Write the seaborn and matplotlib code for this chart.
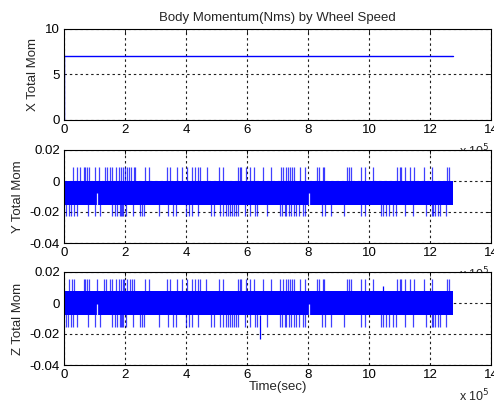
import matplotlib
matplotlib.use("Agg")
import matplotlib.pyplot as plt
from matplotlib.ticker import FuncFormatter, FixedLocator
import numpy as np
import pandas as pd
import seaborn as sns

# Time axis in units of 1e5 s
run_end = 12.74

# X total momentum: steps up to its steady value at start
x_time = [0.0, 0.0, run_end]
x_mom = [0.0, 7.0, 7.0]

# Y total momentum: dense oscillation band plus isolated excursions
y_band_low, y_band_high = -0.0152, 0.0
y_up_peak = 0.0088
y_dn_peak = -0.0228
y_up_times = [0.31, 0.44, 0.53, 0.66, 0.70, 0.77, 0.83, 1.03, 1.16, 1.34, 1.40,
              1.51, 1.58, 1.71, 1.80, 1.86, 1.93, 1.99, 2.06, 2.12, 2.19, 2.28,
              2.32, 2.67, 2.80, 3.37, 3.48, 3.70, 3.88, 4.03, 4.21, 4.29, 4.38,
              4.47, 4.69, 5.08, 5.21, 5.70, 5.76, 5.80, 5.98, 6.09, 6.22, 6.51,
              6.79, 7.10, 7.18, 7.27, 7.34, 7.40, 7.47, 7.54, 7.73, 7.89, 8.30,
              8.37, 8.48, 8.52, 9.29, 9.35, 9.40, 9.75, 9.88, 10.14, 10.93,
              11.00, 11.04, 11.19, 11.33, 11.48, 11.79, 12.05, 12.57, 12.62]
y_dn_times = [0.07, 0.15, 0.24, 0.33, 0.44, 0.79, 1.03, 1.18, 1.58, 1.66, 1.75,
              1.82, 1.86, 1.91, 1.95, 2.02, 2.26, 2.48, 2.56, 2.63, 3.13, 3.42,
              3.59, 3.68, 3.99, 4.10, 4.21, 4.40, 4.82, 4.91, 5.13, 5.21, 5.30,
              5.37, 5.43, 5.50, 5.56, 5.63, 5.72, 5.94, 6.09, 6.27, 6.33, 6.66,
              7.08, 7.14, 7.23, 7.29, 7.38, 7.45, 7.54, 7.62, 7.71, 7.82, 7.89,
              8.46, 8.57, 8.76, 9.18, 9.75, 9.86, 10.38, 10.45, 10.56, 10.65,
              10.78, 10.87, 11.19, 11.43, 11.87, 12.05, 12.09, 12.16, 12.25,
              12.33, 12.51]
y_notch_times = [1.07, 8.03]
y_notch_low, y_notch_high = -0.0152, -0.0075

# Z total momentum
z_band_low, z_band_high = -0.0080, 0.0079
z_up_peak = 0.0153
z_dn_peak = -0.0156
z_up_times = [0.18, 0.26, 0.33, 0.66, 0.70, 0.77, 0.83, 1.09, 1.31, 1.38, 1.51,
              1.58, 1.69, 1.80, 1.86, 1.93, 1.97, 2.06, 2.15, 2.23, 2.30, 2.67,
              2.80, 3.37, 3.48, 3.70, 3.88, 4.03, 4.21, 4.29, 4.38, 4.45, 4.67,
              5.08, 5.21, 5.70, 5.76, 5.80, 5.96, 6.09, 6.22, 6.51, 6.79, 7.08,
              7.18, 7.27, 7.34, 7.40, 7.47, 7.54, 7.73, 7.89, 8.30, 8.37, 8.48,
              8.52, 9.29, 9.35, 9.40, 9.75, 9.88, 10.14, 10.93, 11.00, 11.04,
              11.19, 11.33, 11.48, 11.79, 12.05, 12.57, 12.62]
z_dn_times = [0.05, 0.13, 0.22, 0.31, 0.42, 0.79, 1.03, 1.18, 1.58, 1.66, 1.75,
              1.82, 1.86, 1.91, 1.95, 2.02, 2.26, 2.48, 2.56, 2.63, 3.13, 3.42,
              3.59, 3.68, 3.99, 4.10, 4.21, 4.40, 4.82, 4.91, 5.13, 5.21, 5.30,
              5.37, 5.43, 5.50, 5.56, 5.63, 5.72, 5.94, 6.09, 6.27, 6.33, 6.66,
              7.08, 7.14, 7.23, 7.29, 7.38, 7.45, 7.54, 7.62, 7.71, 7.82, 7.89,
              8.46, 8.57, 8.76, 9.18, 9.75, 9.86, 10.38, 10.45, 10.56, 10.65,
              10.78, 10.87, 11.19, 11.43, 11.87, 12.05, 12.09, 12.16, 12.25,
              12.33, 12.51]
z_deep_times = [6.42]
z_deep_peak = -0.0235
z_small_times = [10.45]
z_small_peak = 0.0110
z_notch_times = [1.07, 8.03]
z_notch_low, z_notch_high = -0.0080, -0.0007

x_ticks = [0, 2, 4, 6, 8, 10, 12, 14]
mom_ticks_x = [0, 5, 10]
mom_ticks_yz = [-0.04, -0.02, 0, 0.02]

sns.set_style("white")
plt.rcParams["font.family"] = ["Liberation Sans", "DejaVu Sans"]
plt.rcParams["font.size"] = 9.5

BLUE = "#0000ff"
W, H = 494, 405
fig = plt.figure(figsize=(W / 100, H / 100), dpi=100)


def add_axes(top_px, bottom_px):
    left_px, right_px = 64, 491
    return fig.add_axes([left_px / W, 1 - bottom_px / H,
                         (right_px - left_px) / W, (bottom_px - top_px) / H])


def style(ax, yticks, ylim, ylabel, height_px):
    ax.set_xlim(0, 14)
    ax.set_ylim(*ylim)
    ax.xaxis.set_major_locator(FixedLocator(x_ticks))
    ax.yaxis.set_major_locator(FixedLocator(yticks))
    ax.xaxis.set_major_formatter(FuncFormatter(lambda v, _: f"{v:g}"))
    ax.yaxis.set_major_formatter(
        FuncFormatter(lambda v, _: "0" if abs(v) < 1e-12 else f"{v:g}"))
    ax.set_axisbelow(True)
    ax.grid(True, color="#202020", linestyle=(0, (2.2, 2.6)), linewidth=0.8)
    for s in ax.spines.values():
        s.set_color("#000000")
        s.set_linewidth(0.8)
    ax.tick_params(direction="in", length=3, width=0.6, top=True, right=True,
                   labelsize=9.5, pad=3, colors="#000000")
    ax.set_ylabel(ylabel, fontsize=9.5, labelpad=4)
    ax.set_xlabel("")
    # shared exponent label of the time axis; the panel below hides all but
    # its superscript
    ax.text(0.925, -36 / height_px, r"x 10$^5$", transform=ax.transAxes,
            fontsize=9, ha="left", va="baseline", clip_on=False)


def band_with_spikes(ax, low, high, up_times, up_peak, dn_times, dn_peak):
    ax.fill_between([0.0, run_end], [low, low], [high, high], color=BLUE,
                    linewidth=0, zorder=2)
    ax.vlines(up_times, high - 0.001, up_peak, color=BLUE, linewidth=0.9,
              alpha=0.75, zorder=2)
    ax.vlines(dn_times, low + 0.001, dn_peak, color=BLUE, linewidth=0.9,
              alpha=0.75, zorder=2)


# --- X ---
ax1 = add_axes(29, 120)
df_x = pd.DataFrame({"t": x_time, "m": x_mom})
sns.lineplot(data=df_x, x="t", y="m", ax=ax1, color=BLUE, linewidth=1.0,
             sort=False, estimator=None)
style(ax1, mom_ticks_x, (0, 10), "X Total Mom", 91)
ax1.set_title("Body Momentum(Nms) by Wheel Speed", fontsize=9.5, pad=6)

# --- Y ---
ax2 = add_axes(150, 243)
band_with_spikes(ax2, y_band_low, y_band_high, y_up_times, y_up_peak,
                 y_dn_times, y_dn_peak)
ax2.vlines(y_notch_times, y_notch_low, y_notch_high, color="#e8e8ff",
           linewidth=0.9, zorder=3)
style(ax2, mom_ticks_yz, (-0.04, 0.02), "Y Total Mom", 93)

# --- Z ---
ax3 = add_axes(272, 365)
band_with_spikes(ax3, z_band_low, z_band_high, z_up_times, z_up_peak,
                 z_dn_times, z_dn_peak)
ax3.vlines(z_deep_times, z_band_low, z_deep_peak, color=BLUE, linewidth=0.9,
           zorder=2)
ax3.vlines(z_small_times, z_band_high, z_small_peak, color=BLUE,
           linewidth=0.9, zorder=2)
ax3.vlines(z_notch_times, z_notch_low, z_notch_high, color="#e8e8ff",
           linewidth=0.9, zorder=3)
style(ax3, mom_ticks_yz, (-0.04, 0.02), "Z Total Mom", 93)
ax3.set_xlabel("Time(sec)", fontsize=9.5, labelpad=0)

fig.savefig("out.png", dpi=100, facecolor="white")
